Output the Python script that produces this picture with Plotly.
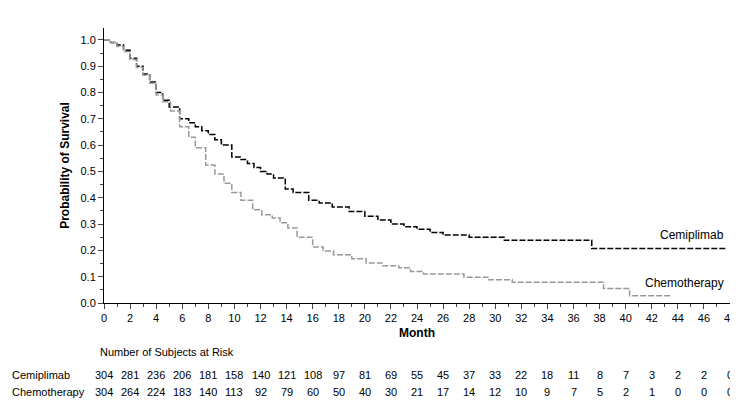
import plotly.graph_objects as go

# Kaplan-Meier step points
cemi_month = [0, 0.5, 1, 1.5, 2, 2.5, 3, 3.5, 4, 4.5, 5, 5.8, 6.5, 7, 7.5, 8, 8.5, 9, 9.8, 10.5, 11, 11.5, 12, 12.5, 13, 13.9,
              14.5, 15.7, 16.5, 17.5, 18.8, 20, 21, 22, 23, 24, 25, 26, 28, 30.7, 37.4, 47.8]
cemi_surv = [1.0, 0.99, 0.98, 0.96, 0.93, 0.90, 0.87, 0.84, 0.80, 0.77, 0.745, 0.70, 0.685, 0.67, 0.655, 0.64, 0.62, 0.60, 0.555, 0.545,
             0.53, 0.515, 0.50, 0.49, 0.475, 0.433, 0.42, 0.39, 0.38, 0.365, 0.348, 0.33, 0.315, 0.30, 0.29, 0.28, 0.268, 0.258, 0.25,
             0.238, 0.207, 0.207]
chemo_month = [0, 0.5, 1, 1.5, 2, 2.5, 3, 3.5, 4, 4.5, 5.1, 5.8, 6.5, 7, 7.8, 8.5, 9.2, 9.8, 10.5, 11.4, 12.1, 12.9, 13.5, 14.1, 14.8,
               16, 16.8, 17.6, 19, 20.1, 21.3, 22.6, 23.5, 24.5, 27.6, 29.5, 31.3, 38.3, 40.3, 43.5]
chemo_surv = [1.0, 0.99, 0.975, 0.955, 0.925, 0.895, 0.865, 0.835, 0.79, 0.765, 0.73, 0.67, 0.63, 0.59, 0.524, 0.49, 0.455, 0.42, 0.39,
              0.354, 0.335, 0.323, 0.305, 0.285, 0.25, 0.213, 0.198, 0.183, 0.168, 0.152, 0.142, 0.134, 0.12, 0.11, 0.098, 0.088,
              0.079, 0.055, 0.028, 0.028]

risk_months = list(range(0, 49, 2))
cemi_risk = [304, 281, 236, 206, 181, 158, 140, 121, 108, 97, 81, 69, 55, 45, 37, 33, 22, 18, 11, 8, 7, 3, 2, 2, 0]
chemo_risk = [304, 264, 224, 183, 140, 113, 92, 79, 60, 50, 40, 30, 21, 17, 14, 12, 10, 9, 7, 5, 2, 1, 0, 0, 0]

fig = go.Figure()
fig.add_trace(go.Scatter(x=cemi_month, y=cemi_surv, mode='lines', line_shape='hv',
                         line=dict(color='black', width=1.5, dash='6px,2px'), name='Cemiplimab'))
fig.add_trace(go.Scatter(x=chemo_month, y=chemo_surv, mode='lines', line_shape='hv',
                         line=dict(color='#999999', width=1.5, dash='6px,2px'), name='Chemotherapy'))

fnt = dict(family='Liberation Sans, Arial', size=11, color='black')
ann = [
    dict(x=47.7, y=0.225, xref='x', yref='y', text='Cemiplimab', showarrow=False, xanchor='right', yanchor='bottom',
         font=dict(family='Liberation Sans, Arial', size=12)),
    dict(x=47.7, y=0.04, xref='x', yref='y', text='Chemotherapy', showarrow=False, xanchor='right', yanchor='bottom',
         font=dict(family='Liberation Sans, Arial', size=12)),
    dict(x=-0.01, y=-0.207, xref='paper', yref='paper', text='Number of Subjects at Risk', showarrow=False,
         xanchor='left', font=fnt),
    dict(x=-0.15, y=-0.29, xref='paper', yref='paper', text='Cemiplimab', showarrow=False, xanchor='left', font=fnt),
    dict(x=-0.15, y=-0.353, xref='paper', yref='paper', text='Chemotherapy', showarrow=False, xanchor='left', font=fnt),
]
for m, a, b in zip(risk_months, cemi_risk, chemo_risk):
    ann.append(dict(x=m, y=-0.29, xref='x', yref='paper', text=str(a), showarrow=False, font=fnt))
    ann.append(dict(x=m, y=-0.353, xref='x', yref='paper', text=str(b), showarrow=False, font=fnt))

fig.update_layout(
    width=738, height=403, margin=dict(l=96, r=16, t=20, b=108, autoexpand=False),
    plot_bgcolor='white', paper_bgcolor='white', showlegend=False,
    font=dict(family='Liberation Sans, Arial', size=11, color='black'),
    annotations=ann,
)
fig.update_xaxes(range=[0, 48], dtick=2, ticks='outside', ticklen=5, showline=True, linecolor='black',
                 showgrid=False, zeroline=False, automargin=False, minor=dict(dtick=1, ticks='outside', ticklen=3),
                 title=dict(text='<b>Month</b>', standoff=5, font=dict(size=12)))
fig.update_yaxes(range=[0, 1.045], tickvals=[i / 10 for i in range(11)], tickformat='.1f', ticks='outside', ticklen=5,
                 showline=True, linecolor='black', showgrid=False, zeroline=False, automargin=False,
                 minor=dict(dtick=0.05, ticks='outside', ticklen=3),
                 title=dict(text='<b>Probability of Survival</b>', standoff=8, font=dict(size=12)))

fig.write_html("out.html")
